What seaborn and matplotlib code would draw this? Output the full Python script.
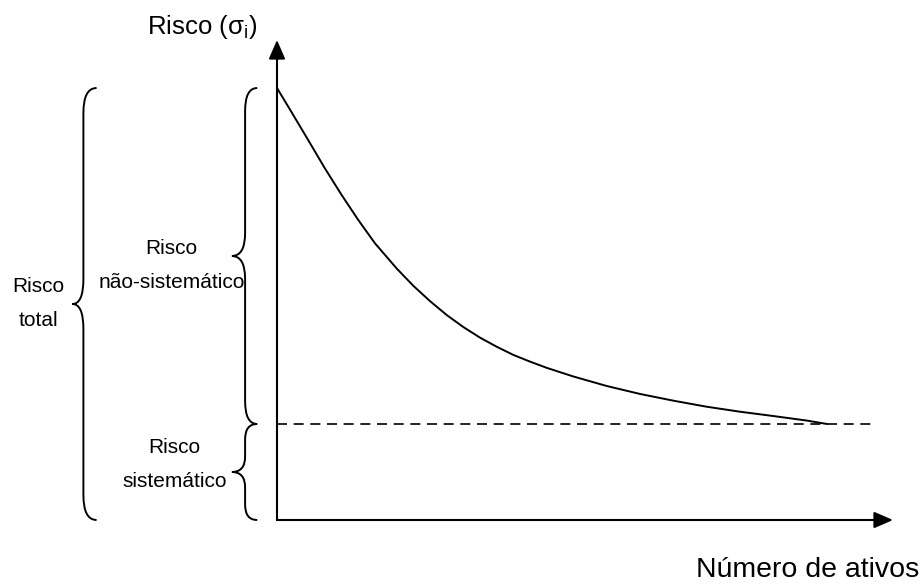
#!/usr/bin/env python3
"""Diagrama de risco total vs numero de ativos (diversificacao)."""

import matplotlib

matplotlib.use("Agg")
import matplotlib.pyplot as plt
import seaborn as sns
from matplotlib.patches import PathPatch
from matplotlib.path import Path

# curva de risco total (numero de ativos, risco)
n_ativos = [0.0, 1.34, 2.85, 4.36, 5.88, 7.39, 8.91, 10.88, 12.39, 13.91, 15.43, 16.94,
            18.45, 19.97, 21.48, 23.0, 24.52, 26.94, 29.97, 33.0, 36.03, 39.06, 42.09,
            45.12, 48.15, 50.0]
risco_total = [45.0, 42.45, 39.55, 36.62, 33.85, 31.25, 28.82, 26.2, 24.4, 22.8, 21.35,
               20.1, 19.0, 18.05, 17.2, 16.5, 15.85, 14.95, 13.96, 13.13, 12.43, 11.80,
               11.28, 10.83, 10.36, 10.0]
risco_sistematico = 10.0
fim_tracejado = 54.0

rotulos = ["Risco\ntotal", "Risco\nnão-sistemático", "Risco\nsistemático"]
titulo_y = "Risco (σ$_\\mathrm{i}$)"
titulo_x = "Número de ativos"


def chave(ax, x_tip, x_stem, x_end, y0, y1, r, lw=1.4):
    ym = (y0 + y1) / 2
    verts = [
        (x_end, y1), (x_stem, y1), (x_stem, y1 - r),
        (x_stem, ym + r),
        (x_stem, ym), (x_tip, ym),
        (x_stem, ym), (x_stem, ym - r),
        (x_stem, y0 + r),
        (x_stem, y0), (x_end, y0),
    ]
    codes = [Path.MOVETO, Path.CURVE3, Path.CURVE3, Path.LINETO,
             Path.CURVE3, Path.CURVE3, Path.CURVE3, Path.CURVE3,
             Path.LINETO, Path.CURVE3, Path.CURVE3]
    ax.add_patch(PathPatch(Path(verts, codes), fill=False, lw=lw, ec="black", clip_on=False))


def main() -> None:
    sns.set_theme(style="white")
    plt.rcParams["font.family"] = ["Liberation Sans", "DejaVu Sans"]
    plt.rcParams["text.color"] = "black"
    plt.rcParams["mathtext.fontset"] = "custom"
    plt.rcParams["mathtext.rm"] = "Liberation Sans"

    W, H = 924, 585
    fig = plt.figure(figsize=(W / 100, H / 100), dpi=100)
    ax = fig.add_axes([277 / W, (H - 520) / H, (893 - 277) / W, (520 - 40) / H])
    ax.set_xlim(0, 56)
    ax.set_ylim(0, 50)
    for s in ax.spines.values():
        s.set_visible(False)
    ax.set_xticks([])
    ax.set_yticks([])
    ax.patch.set_alpha(0)

    arrow = dict(arrowstyle="-|>,head_length=11.5,head_width=5", mutation_scale=1,
                 color="black", lw=1.5, shrinkA=0, shrinkB=0)
    ax.annotate("", xy=(1, 0), xytext=(0, 0), xycoords="axes fraction", arrowprops=arrow)
    ax.annotate("", xy=(0, 1), xytext=(0, 0), xycoords="axes fraction", arrowprops=arrow)

    sns.lineplot(x=n_ativos, y=risco_total, color="black", lw=1.4, ax=ax, sort=False)
    ax.hlines(risco_sistematico, 0, fim_tracejado, colors="black", lw=1.2, linestyles=(0, (6, 4)))

    topo = risco_total[0]
    chave(ax, -18.6, -17.6, -16.4, 0, topo, 2.6)
    chave(ax, -4.1, -2.9, -1.8, risco_sistematico, topo, 2.4)
    chave(ax, -4.1, -2.9, -1.8, 0, risco_sistematico, 1.6)

    fs = 15
    ax.text(-21.7, topo / 2, rotulos[0], ha="center", va="center", fontsize=fs,
            linespacing=2.0, clip_on=False)
    ax.text(-9.6, 26.5, rotulos[1], ha="center", va="center", fontsize=fs,
            linespacing=2.0, clip_on=False)
    ax.text(-9.3, 5.8, rotulos[2], ha="center", va="center", fontsize=fs,
            linespacing=2.0, clip_on=False)

    fig.text(257 / W, 1 - 27 / H, titulo_y, ha="right", va="center", fontsize=18.5)
    fig.text(919 / W, 1 - 577 / H, titulo_x, ha="right", va="baseline", fontsize=20.5)

    fig.savefig("out.png", dpi=100)
    plt.close(fig)


if __name__ == "__main__":
    main()
